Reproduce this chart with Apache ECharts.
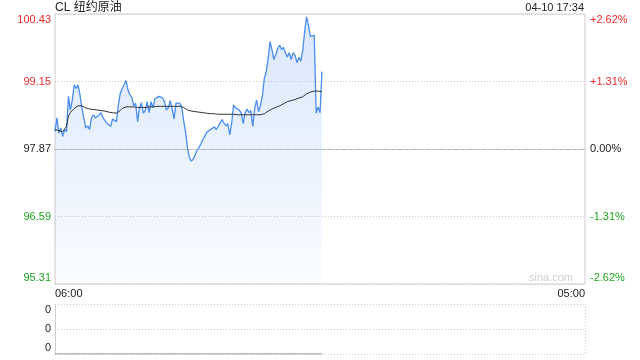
<!DOCTYPE html>
<html><head><meta charset="utf-8">
<script src="https://cdn.jsdelivr.net/npm/echarts@6/dist/echarts.min.js"></script>
<style>html,body{margin:0;padding:0;background:#fff}#c{width:640px;height:360px}</style>
</head><body><div id="c"></div>
<script>
const title = 'CL 纽约原油';
const stamp = '04-10 17:34';
const watermark = 'sina.com';
const prevClose = 97.87;
const stepMinutes = 5;
const sessionMinutes = 1380;
const timeLabels = ['06:00', '05:00'];
const priceLabels = ['95.31', '96.59', '97.87', '99.15', '100.43'];
const pctLabels = ['-2.62%', '-1.31%', '0.00%', '+1.31%', '+2.62%'];
const pctMin = -2.62, pctMax = 2.62, pctStep = 1.31;
const volumeLabels = ['0', '0', '0'];

const prices = [
  98.20, 98.46, 98.17, 98.27, 98.11, 98.24, 98.20, 98.87, 98.61, 98.80,
  99.09, 99.02, 99.09, 98.90, 98.65, 98.46, 98.27, 98.31, 98.24, 98.46,
  98.52, 98.46, 98.43, 98.52, 98.56, 98.46, 98.49, 98.36, 98.39, 98.30,
  98.44, 98.46, 98.39, 98.71, 98.93, 99.02, 99.09, 99.17, 98.99, 98.90,
  98.85, 98.69, 98.74, 98.39, 98.65, 98.75, 98.55, 98.60, 98.77, 98.56,
  98.77, 98.65, 98.82, 98.85, 98.87, 98.90, 98.84, 98.77, 98.61, 98.65,
  98.79, 98.63, 98.44, 98.74, 98.77, 98.74, 98.67, 98.41, 98.19, 97.89,
  97.70, 97.64, 97.68, 97.76, 97.85, 97.90, 97.97, 98.05, 98.11, 98.19,
  98.22, 98.24, 98.22, 98.29, 98.24, 98.30, 98.27, 98.43, 98.36, 98.31,
  98.35, 98.14, 98.36, 98.71, 98.65, 98.67, 98.61, 98.55, 98.35, 98.56,
  98.63, 98.56, 98.60, 98.30, 98.65, 98.80, 98.58, 98.69, 98.88, 99.21,
  99.34, 99.59, 99.91, 99.75, 99.57, 99.67, 99.78, 99.84, 99.76, 99.80,
  99.70, 99.62, 99.70, 99.57, 99.70, 99.65, 99.51, 99.61, 99.54, 99.74,
  100.10, 100.38, 100.22, 100.01, 100.01, 100.03, 98.55, 98.67, 98.56, 99.34
];

const avgPrices = [
  98.24, 98.24, 98.22, 98.21, 98.20, 98.21, 98.30, 98.50, 98.56, 98.60,
  98.64, 98.67, 98.69, 98.70, 98.69, 98.67, 98.65, 98.64, 98.63, 98.62,
  98.62, 98.61, 98.61, 98.60, 98.60, 98.59, 98.59, 98.58, 98.57, 98.56,
  98.56, 98.55, 98.55, 98.56, 98.60, 98.64, 98.66, 98.67, 98.67, 98.67,
  98.67, 98.67, 98.67, 98.66, 98.66, 98.66, 98.66, 98.66, 98.67, 98.67,
  98.67, 98.67, 98.67, 98.68, 98.68, 98.68, 98.68, 98.68, 98.68, 98.68,
  98.68, 98.68, 98.68, 98.68, 98.68, 98.68, 98.67, 98.66, 98.64, 98.61,
  98.60, 98.59, 98.58, 98.58, 98.57, 98.57, 98.56, 98.56, 98.55, 98.55,
  98.55, 98.54, 98.54, 98.54, 98.54, 98.53, 98.53, 98.53, 98.53, 98.53,
  98.53, 98.53, 98.53, 98.53, 98.52, 98.52, 98.52, 98.52, 98.52, 98.52,
  98.52, 98.52, 98.52, 98.52, 98.52, 98.52, 98.52, 98.52, 98.53, 98.54,
  98.57, 98.59, 98.61, 98.63, 98.65, 98.66, 98.68, 98.69, 98.71, 98.73,
  98.75, 98.77, 98.78, 98.79, 98.80, 98.81, 98.82, 98.84, 98.85, 98.86,
  98.87, 98.92, 98.94, 98.95, 98.96, 98.97, 98.98, 98.97, 98.96, 98.96
];

const volumes = [
  0,0,0,0,0,0,0,0,0,0, 0,0,0,0,0,0,0,0,0,0, 0,0,0,0,0,0,0,0,0,0,
  0,0,0,0,0,0,0,0,0,0, 0,0,0,0,0,0,0,0,0,0, 0,0,0,0,0,0,0,0,0,0,
  0,0,0,0,0,0,0,0,0,0, 0,0,0,0,0,0,0,0,0,0, 0,0,0,0,0,0,0,0,0,0,
  0,0,0,0,0,0,0,0,0,0, 0,0,0,0,0,0,0,0,0,0, 0,0,0,0,0,0,0,0,0,0,
  0,0,0,0,0,0,0,0,0,0, 0,0,0,0,0,0,0,0,0,0
];

const FONT = '"Liberation Sans", Arial, "Noto Sans CJK SC", sans-serif';
const RED = '#f42a2a', GREEN = '#1ea51e', DARK = '#222';

const toPct = p => (p - prevClose) / prevClose * 100;
const priceData = prices.map((p, i) => [i * stepMinutes, toPct(p)]);
const avgData = avgPrices.map((p, i) => [i * stepMinutes, toPct(p)]);
const volData = volumes.map((v, i) => [i * stepMinutes, v]);

const styleKeys = ['gb', 'g', 'k', 'r', 'rt'];
const rich = {
  gb: { color: GREEN, fontSize: 11, fontFamily: FONT, padding: [0, 0, 13, 0] },
  g:  { color: GREEN, fontSize: 11, fontFamily: FONT },
  k:  { color: DARK, fontSize: 11, fontFamily: FONT },
  r:  { color: RED, fontSize: 11, fontFamily: FONT },
  rt: { color: RED, fontSize: 11, fontFamily: FONT, padding: [12, 0, 0, 0] }
};
const volRich = {
  b: { color: DARK, fontSize: 11, fontFamily: FONT, padding: [0, 0, 13, 0] },
  m: { color: DARK, fontSize: 11, fontFamily: FONT },
  t: { color: DARK, fontSize: 11, fontFamily: FONT, padding: [12, 0, 0, 0] }
};
const volKeys = ['b', 'm', 't'];

const chart = echarts.init(document.getElementById('c'), null, { renderer: 'canvas' });
chart.setOption({
  animation: false,
  backgroundColor: '#fff',
  textStyle: { fontFamily: FONT },
  grid: [
    { left: 55, right: 55, top: 14, height: 270, show: true, borderColor: '#ccc', borderWidth: 1, backgroundColor: 'transparent' },
    { left: 55, right: 55, top: 304, height: 50 }
  ],
  xAxis: [
    {
      type: 'value', gridIndex: 0, min: 0, max: sessionMinutes, interval: sessionMinutes,
      axisLine: { show: true, lineStyle: { color: '#ccc' } },
      axisTick: { show: false },
      splitLine: { show: false },
      axisLabel: {
        show: true, margin: 4, color: DARK, fontSize: 11, fontFamily: FONT,
        alignMinLabel: 'left', alignMaxLabel: 'right',
        formatter: (v, idx) => timeLabels[idx] || ''
      }
    },
    {
      type: 'value', gridIndex: 1, min: 0, max: sessionMinutes, interval: sessionMinutes,
      axisLine: { show: false },
      axisTick: { show: false },
      axisLabel: { show: false },
      splitLine: { show: true, lineStyle: { color: '#ccc', type: [1, 2] } }
    }
  ],
  yAxis: [
    {
      type: 'value', gridIndex: 0, position: 'left', min: pctMin, max: pctMax, interval: pctStep,
      axisLine: { show: false }, axisTick: { show: false },
      splitLine: { show: true, lineStyle: { color: '#ccc', type: [1, 2] } },
      axisLabel: {
        margin: 4, fontSize: 11,
        formatter: (v, idx) => '{' + styleKeys[idx] + '|' + priceLabels[idx] + '}',
        rich: rich
      }
    },
    {
      type: 'value', gridIndex: 0, position: 'right', min: pctMin, max: pctMax, interval: pctStep,
      axisLine: { show: false }, axisTick: { show: false }, splitLine: { show: false },
      axisLabel: {
        margin: 5, fontSize: 11,
        formatter: (v, idx) => '{' + styleKeys[idx] + '|' + pctLabels[idx] + '}',
        rich: rich
      }
    },
    {
      type: 'value', gridIndex: 1, min: 0, max: 2, interval: 1,
      axisLine: { show: true, lineStyle: { color: '#ccc' } }, axisTick: { show: false },
      splitLine: { show: true, lineStyle: { color: '#ccc', type: [1, 2] } },
      axisLabel: {
        margin: 4, fontSize: 11,
        formatter: (v, idx) => '{' + volKeys[idx] + '|' + volumeLabels[idx] + '}',
        rich: volRich
      }
    }
  ],
  graphic: [
    { type: 'text', x: 55, y: 8, style: { text: title, align: 'left', verticalAlign: 'middle', fill: DARK, font: '12px ' + FONT } },
    { type: 'text', x: 584, y: 8, style: { text: stamp, align: 'right', verticalAlign: 'middle', fill: DARK, font: '11px ' + FONT } },
    { type: 'text', x: 573, y: 278, z: 10, style: { text: watermark, align: 'right', verticalAlign: 'middle', fill: '#cfcfcf', font: '11px ' + FONT } }
  ],
  series: [
    {
      type: 'line', name: 'price', xAxisIndex: 0, yAxisIndex: 0, data: priceData,
      showSymbol: false, symbol: 'none', smooth: false,
      lineStyle: { color: '#4a8cef', width: 1.3 },
      areaStyle: {
        origin: 'start',
        color: new echarts.graphic.LinearGradient(0, 0, 0, 1, [
          { offset: 0, color: 'rgba(77,143,240,0.30)' },
          { offset: 1, color: 'rgba(77,143,240,0.04)' }
        ])
      },
      markLine: {
        silent: true, symbol: ['none', 'none'], label: { show: false },
        lineStyle: { color: '#b5b5b5', type: [4, 3], width: 1 },
        data: [{ yAxis: 0 }]
      },
      z: 3
    },
    {
      type: 'line', name: 'avg', xAxisIndex: 0, yAxisIndex: 0, data: avgData,
      showSymbol: false, symbol: 'none',
      lineStyle: { color: '#333', width: 1 }, z: 4
    },
    {
      type: 'line', name: 'volume', xAxisIndex: 1, yAxisIndex: 2, data: volData,
      showSymbol: false, symbol: 'none',
      lineStyle: { color: '#777', width: 1 }, z: 4
    }
  ]
});
</script>
</body></html>
